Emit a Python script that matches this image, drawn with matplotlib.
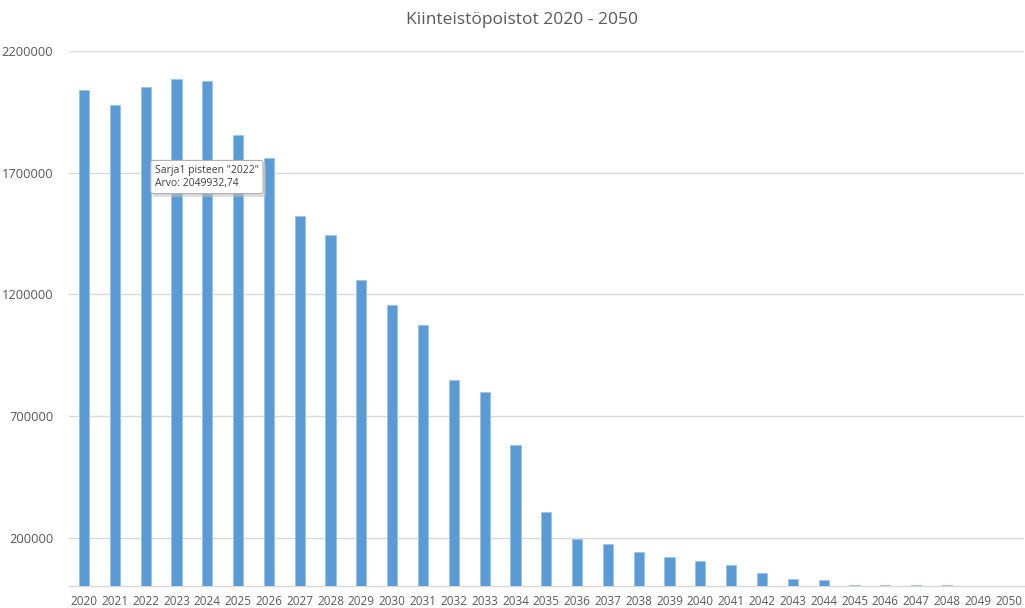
import matplotlib
matplotlib.use("Agg")
import matplotlib.pyplot as plt
from matplotlib.patches import FancyBboxPatch

years = [str(y) for y in range(2020, 2051)]
values = [2038000, 1976000, 2049933, 2083000, 2076000, 1854000, 1760000,
          1522000, 1444000, 1260000, 1157000, 1073000, 848000, 799000,
          581000, 306000, 196000, 173000, 143000, 120000, 104000, 89000,
          55000, 29000, 25000, 6000, 6000, 6000, 6000, 0, 0]
yticks = [200000, 700000, 1200000, 1700000, 2200000]
title = "Kiinteistöpoistot 2020 - 2050"
tooltip = 'Sarja1 pisteen "2022"\nArvo: 2049932,74'

plt.rcParams['font.family'] = ['Open Sans', 'DejaVu Sans']
txt = '#595959'
W, H = 1025, 608

fig = plt.figure(figsize=(10.25, 6.08), dpi=100)
ax = fig.add_axes([68.6/W, (H-586.4)/H, 955.4/W, 535.5/H])
x = list(range(len(years)))
ax.bar(x, values, width=0.33, color='#5B9BD5', edgecolor='#9DC3E6', linewidth=0.6, zorder=3)
ax.set_xlim(-0.5, len(years) - 0.5)
ax.set_ylim(0, 2200000)
ax.set_yticks(yticks)
ax.set_yticklabels([str(v) for v in yticks])
ax.set_xticks(x)
ax.set_xticklabels(years)
ax.tick_params(axis='x', length=0, labelsize=8.5, colors=txt, pad=6)
ax.tick_params(axis='y', length=0, labelsize=9.3, colors=txt, pad=11)
ax.grid(axis='y', color='#D9D9D9', linewidth=1, zorder=0)
for s in ['top', 'right', 'left']:
    ax.spines[s].set_visible(False)
ax.spines['bottom'].set_color('#D9D9D9')
ax.spines['bottom'].set_linewidth(1)
ax.set_axisbelow(True)

fig.text(522/W, 1 - 20/H, title, ha='center', va='center', fontsize=12.5, color=txt)

# tooltip shadow (patch in figure coords)
shadow = FancyBboxPatch((153/W, 1 - 197/H), 113/W, 33/H,
                        boxstyle='round,pad=0,rounding_size=0.003',
                        transform=fig.transFigure, facecolor='#C0C0C0',
                        edgecolor='none', alpha=0.55, zorder=9)
fig.patches.append(shadow)
fig.text(155/W, 1 - 177/H, tooltip, ha='left', va='center', fontsize=7.5,
         color='#404040', linespacing=1.35, zorder=10,
         bbox=dict(boxstyle='round,pad=0.4,rounding_size=0.2', facecolor='white',
                   edgecolor='#B0B0B0', linewidth=0.8))

fig.savefig('out.png', dpi=100)
